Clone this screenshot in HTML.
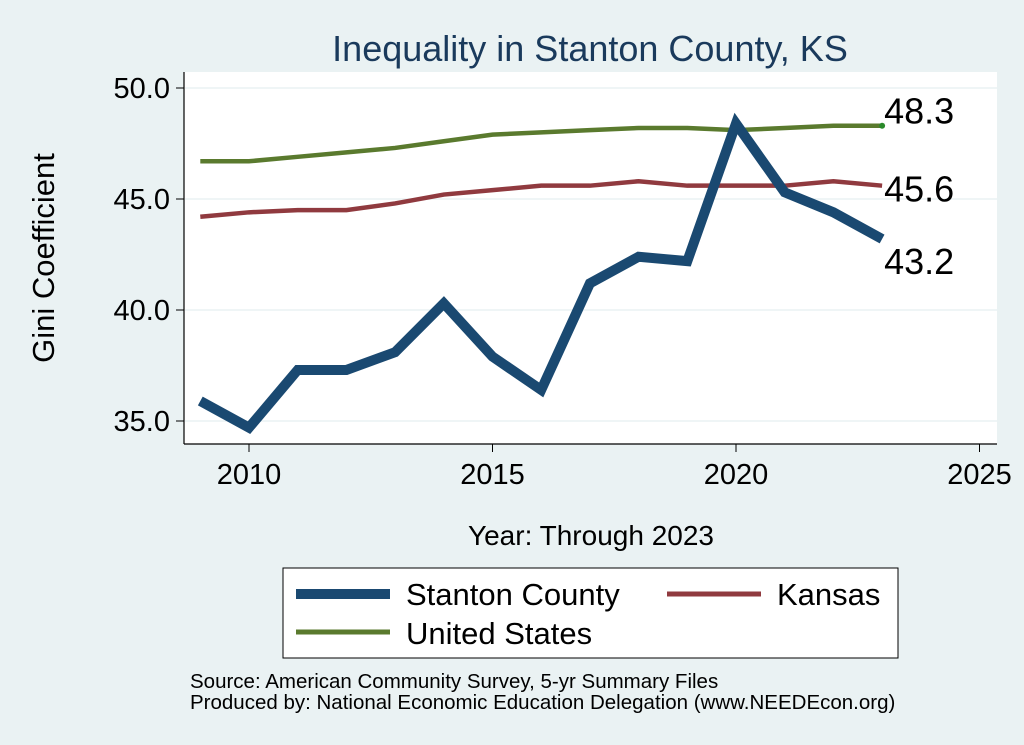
<!DOCTYPE html>
<html><head><meta charset="utf-8"><style>
body{margin:0;background:#eaf2f3;}
svg{display:block;font-family:"Liberation Sans",sans-serif;}
</style></head><body>
<svg id="c" width="1024" height="745">
<rect x="0" y="0" width="1024" height="745" fill="#eaf2f3"/>
<text x="590" y="61" text-anchor="middle" font-size="36" fill="#1a3a5c">Inequality in Stanton County, KS</text>
<rect x="184" y="72" width="813" height="372" fill="#ffffff"/>
<g id="grid"></g>
<g id="axes"></g>
<g id="series"></g>
<text transform="translate(54,258) rotate(-90)" text-anchor="middle" font-size="31" fill="#000">Gini Coefficient</text>
<text x="591" y="545" text-anchor="middle" font-size="28" fill="#000">Year: Through 2023</text>
<g>
<rect x="283" y="568" width="615" height="90" fill="#fff" stroke="#000" stroke-width="1"/>
<line x1="296" y1="594" x2="390" y2="594" stroke="#1a4971" stroke-width="10"/>
<text x="406" y="605" font-size="31">Stanton County</text>
<line x1="667" y1="594" x2="761" y2="594" stroke="#903a3f" stroke-width="5"/>
<text x="777" y="605" font-size="31">Kansas</text>
<line x1="296" y1="632" x2="390" y2="632" stroke="#5a7a2e" stroke-width="5"/>
<text x="406" y="644" font-size="31">United States</text>
</g>
<text x="190" y="688" font-size="20.5">Source: American Community Survey, 5-yr Summary Files</text>
<text x="190" y="709" font-size="20.5">Produced by: National Economic Education Delegation (www.NEEDEcon.org)</text>
</svg>
<script>
const years=[2009,2010,2011,2012,2013,2014,2015,2016,2017,2018,2019,2020,2021,2022,2023];
const stanton=[35.9,34.7,37.3,37.3,38.1,40.3,37.9,36.4,41.2,42.4,42.2,48.4,45.3,44.4,43.2];
const kansas=[44.2,44.4,44.5,44.5,44.8,45.2,45.4,45.6,45.6,45.8,45.6,45.6,45.6,45.8,45.6];
const us=[46.7,46.7,46.9,47.1,47.3,47.6,47.9,48.0,48.1,48.2,48.2,48.1,48.2,48.3,48.3];
const yTicks=[35,40,45,50];
const yTickLabels=["35.0","40.0","45.0","50.0"];
const xTicks=[2010,2015,2020,2025];
const xTickLabels=["2010","2015","2020","2025"];
const endLabels=["43.2","45.6","48.3"];
const NS="http://www.w3.org/2000/svg";
const xS=v=>249+(v-2010)*48.7;
const yS=v=>88+(50-v)*22.2;
function mk(t,a,p){const e=document.createElementNS(NS,t);for(const k in a)e.setAttribute(k,a[k]);p.appendChild(e);return e;}
const grid=document.getElementById('grid'),axes=document.getElementById('axes'),ser=document.getElementById('series');
yTicks.forEach((v,i)=>{
 const g=mk('line',{x1:185,x2:997,y1:yS(v),y2:yS(v),stroke:'#eaf2f3','stroke-width':1.5},grid);
 
 
 mk('line',{x1:176,x2:184,y1:yS(v),y2:yS(v),stroke:'#000'},axes);
 const t=mk('text',{x:170,y:yS(v)+10,'text-anchor':'end','font-size':29},axes);t.textContent=yTickLabels[i];
 
 
});
xTicks.forEach((v,i)=>{
 mk('line',{x1:xS(v),x2:xS(v),y1:444,y2:452,stroke:'#000'},axes);
 const t=mk('text',{x:xS(v),y:484,'text-anchor':'middle','font-size':29},axes);t.textContent=xTickLabels[i];
 
 
});
mk('line',{x1:184,x2:184,y1:72,y2:444,stroke:'#000','stroke-width':1.2},axes);
mk('line',{x1:184,x2:997,y1:444,y2:444,stroke:'#000','stroke-width':1.2},axes);
function line(data,col,w,name){
 const p=mk('polyline',{points:data.map((v,i)=>xS(years[i])+','+yS(v)).join(' '),fill:'none',stroke:col,'stroke-width':w,'stroke-linejoin':'miter'},ser);
 
 
}
line(us,'#5a7a2e',4.5,'us-line');
line(kansas,'#903a3f',4.5,'kansas-line');
line(stanton,'#1a4971',10,'stanton-line');
mk('circle',{cx:xS(2023),cy:yS(us[14]),r:3,fill:'#2a8a2a'},ser);
const L=[[stanton[14],endLabels[0],22],[kansas[14],endLabels[1],3],[us[14],endLabels[2],-15]];
L.forEach(([v,s,dy])=>{const t=mk('text',{x:xS(2023)+2,y:yS(v)+dy+13,'font-size':36},ser);t.textContent=s;
 
 });
</script>
</body></html>
